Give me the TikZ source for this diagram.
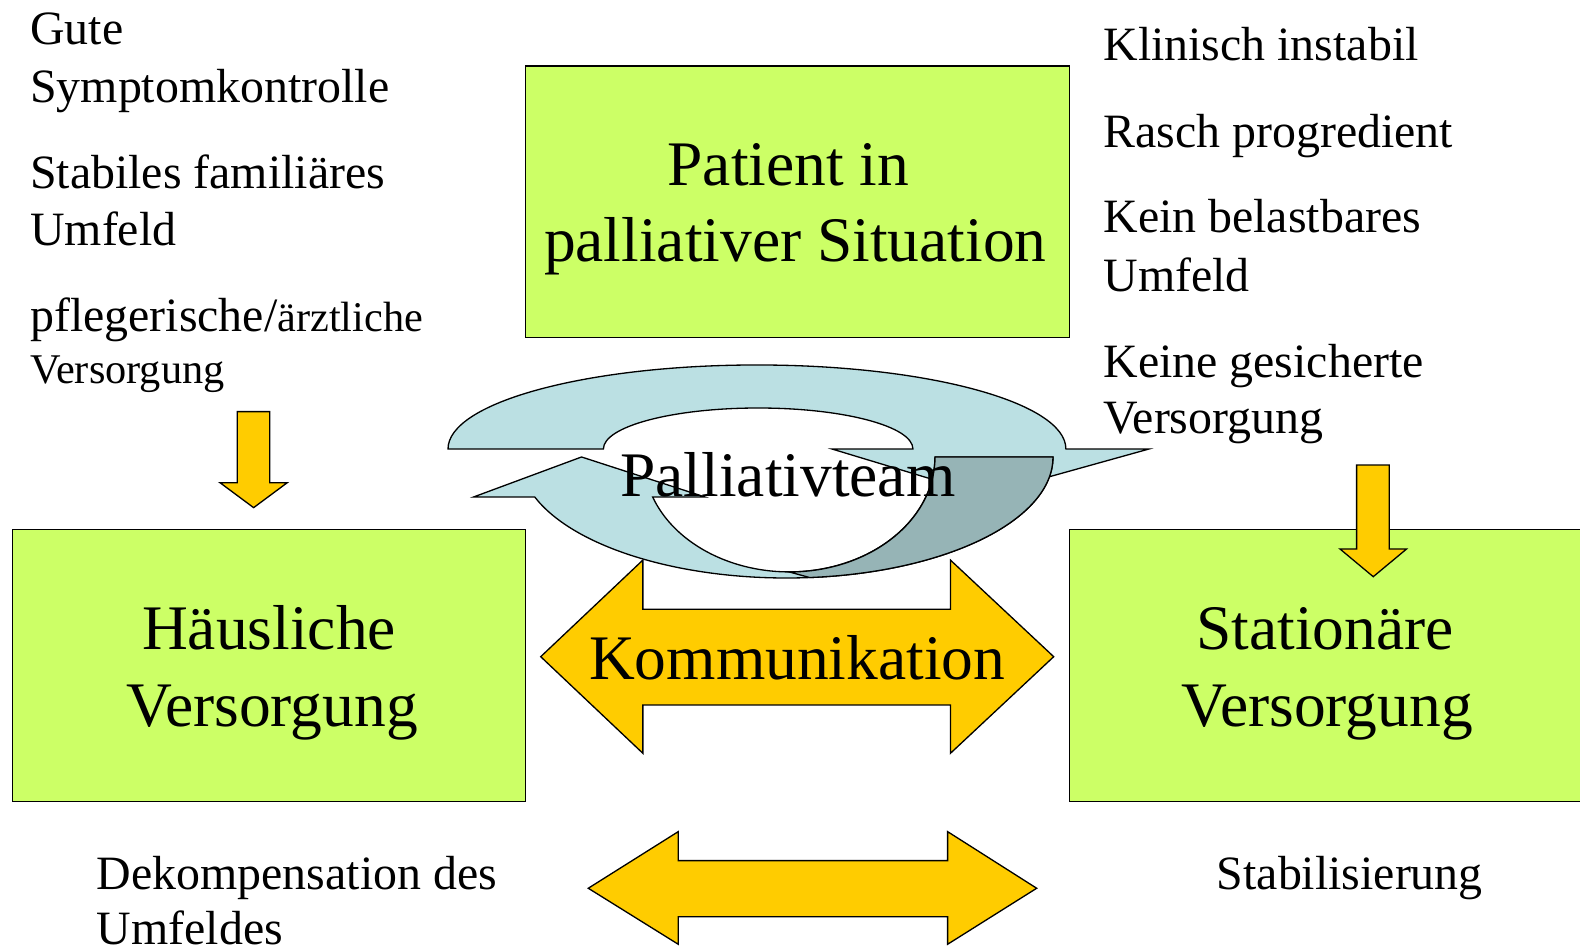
\documentclass[tikz,border=0pt]{standalone}
\usepackage{fontspec}
\setmainfont{Liberation Serif}
\definecolor{boxgreen}{HTML}{CCFF66}
\definecolor{arrowgold}{HTML}{FFCC00}
\definecolor{ribbon}{HTML}{BBE0E3}
\definecolor{ribbondark}{HTML}{96B4B6}
\begin{document}
\begin{tikzpicture}[x=1pt, y=1pt, line join=miter,
  outline/.style={draw=black, line width=1.3pt},
  greenbox/.style={outline, fill=boxgreen, inner sep=0pt, anchor=north west},
  goldshape/.style={outline, fill=arrowgold},
  ribbonshape/.style={outline, fill=ribbon},
  ribbonback/.style={outline, fill=ribbondark},
  sidetext/.style={inner sep=0pt, anchor=base west, font=\fontsize{47.5pt}{56pt}\selectfont},
  smallfont/.style={font=\fontsize{42pt}{50pt}\selectfont},
  bigtext/.style={inner sep=0pt, anchor=base, font=\fontsize{63pt}{75pt}\selectfont}]

\useasboundingbox (0,0) rectangle (1568,-942);
\fill[white] (0,0) rectangle (1568,-942);

% care settings
\node[greenbox, minimum width=540pt, minimum height=269pt] (patient) at (521,-65) {};
\node[greenbox, minimum width=509pt, minimum height=270pt] (home) at (12,-525) {};
\node[greenbox, minimum width=520pt, minimum height=270pt] (ward) at (1061,-525) {};

% small down arrows
\filldraw[goldshape] (235.5,-408.5) -- (267.7,-408.5) -- (267.7,-479) -- (285.1,-479)
  -- (251.7,-503.8) -- (218.3,-479) -- (235.5,-479) -- cycle;
\filldraw[goldshape] (1346.3,-461.5) -- (1378.7,-461.5) -- (1378.7,-544.8) -- (1395.9,-544.8)
  -- (1362.8,-572.3) -- (1329.8,-544.8) -- (1346.3,-544.8) -- cycle;

% communication double arrow
\filldraw[goldshape] (536.6,-651.7) -- (638,-555.8) -- (638,-604.7) -- (943.2,-604.7)
  -- (943.2,-555.8) -- (1045.7,-651.7) -- (943.2,-747.6) -- (943.2,-699.6)
  -- (638,-699.6) -- (638,-747.6) -- cycle;

% lower double arrow
\filldraw[goldshape] (583.8,-881.5) -- (673.1,-825.3) -- (673.1,-854.1) -- (940.4,-854.1)
  -- (940.4,-825.3) -- (1028.8,-881.5) -- (940.4,-937.1) -- (940.4,-909.7)
  -- (673.1,-909.7) -- (673.1,-937.1) -- cycle;

% upper curved arrow (over the top, head pointing down on the right)
\filldraw[ribbonshape] (444.6,-445.6)
  arc[start angle=180, end angle=0, x radius=306.6pt, y radius=83.4pt]
  -- (1140.2,-445.6) -- (976.5,-491.2) -- (825.7,-445.6) -- (906.0,-445.6)
  arc[start angle=0, end angle=180, x radius=153.6pt, y radius=40.7pt]
  -- cycle;

% lower curved arrow (under the bottom, head pointing up on the left)
\filldraw[ribbonshape] (470,-493.2) -- (577.1,-453.5) -- (699.6,-493.2) -- (647.7,-493.2)
  arc[start angle=200.4, end angle=360, x radius=144.6pt, y radius=114.1pt]
  -- (1045,-453.5)
  arc[start angle=360, end angle=199.3, x radius=264.6pt, y radius=120.1pt]
  -- cycle;
\filldraw[ribbonback] (927.9,-453.5) -- (1045,-453.5)
  arc[start angle=0, end angle=-85, x radius=264.6pt, y radius=120.1pt]
  -- (783.3,-567.6)
  arc[start angle=270, end angle=360, x radius=144.6pt, y radius=114.1pt]
  -- cycle;

% box labels
\node[bigtext] (patientA) at (782.4,-184.3) {Patient in};
\node[bigtext] (patientB) at (789.2,-259.7) {palliativer Situation};
\node[bigtext] (homeA) at (267,-644.4) {Häusliche};
\node[bigtext] (homeB) at (270,-721.1) {Versorgung};
\node[bigtext] (wardA) at (1315,-644.4) {Stationäre};
\node[bigtext] (wardB) at (1317,-721.1) {Versorgung};
\node[bigtext] (comm) at (791.1,-674.8) {Kommunikation};
\node[bigtext] (team) at (782,-492.9) {Palliativteam};

% conditions for home care
\node[sidetext] (l1) at (29.8,-44) {Gute};
\node[sidetext] (l2) at (29.8,-102) {Symptomkontrolle};
\node[sidetext] (l3) at (29.8,-187) {Stabiles familiäres};
\node[sidetext] (l4) at (29.8,-244) {Umfeld};
\node[sidetext] (l5) at (29.8,-329) {pflegerische/{\fontsize{42pt}{50pt}\selectfont ärztliche}};
\node[sidetext, smallfont] (l6) at (29.8,-381) {Versorgung};

% conditions for inpatient care
\node[sidetext] (r1) at (1094.9,-60) {Klinisch instabil};
\node[sidetext] (r2) at (1094.9,-146) {Rasch progredient};
\node[sidetext] (r3) at (1094.9,-231) {Kein belastbares};
\node[sidetext] (r4) at (1094.9,-289) {Umfeld};
\node[sidetext] (r5) at (1094.9,-374.5) {Keine gesicherte};
\node[sidetext] (r6) at (1094.9,-430.5) {Versorgung};

% transitions
\node[sidetext] (b1) at (95.9,-882.5) {Dekompensation des};
\node[sidetext] (b2) at (95.9,-937) {Umfeldes};
\node[sidetext] (b3) at (1207.4,-882.5) {Stabilisierung};
\end{tikzpicture}
\end{document}
